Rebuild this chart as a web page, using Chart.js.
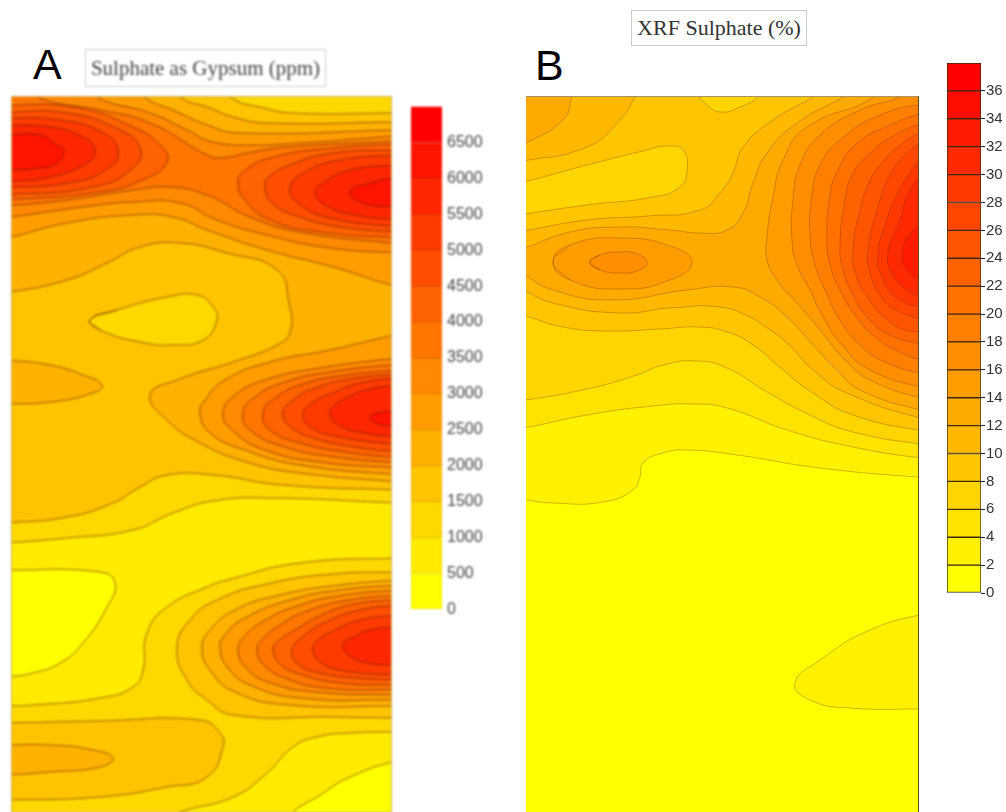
<!DOCTYPE html>
<html>
<head>
<meta charset="utf-8">
<title>Sulphate contours</title>
<script src="https://cdn.jsdelivr.net/npm/chart.js@4"></script>
<style>
  html, body { margin: 0; padding: 0; background: #fff; width: 1006px; height: 812px; overflow: hidden; }
  .caixa { position: absolute; }
  .letra { position: absolute; font: 43px/43px "Liberation Sans", Arial, sans-serif; color: #000; }
  .titulo { position: absolute; box-sizing: border-box; border: 1px solid #ccc; font-family: "Liberation Serif", serif; color: #333; text-align: center; white-space: nowrap; }
  .borrado { filter: blur(0.8px); }
</style>
</head>
<body>
<div class="letra" style="left:33px;top:43px">A</div>
<div class="letra" style="left:535px;top:44px">B</div>
<div class="titulo borrado" style="left:85px;top:49px;width:241px;height:38px;line-height:36px;font-size:21px;color:#444">Sulphate as Gypsum (ppm)</div>
<div class="titulo" style="left:631px;top:10px;width:176px;height:36px;line-height:34px;font-size:22px">XRF Sulphate (%)</div>

<div class="caixa borrado" style="left:12px;top:97px;width:379px;height:715px;outline:1px solid #c8b060"><canvas id="painelA"></canvas></div>
<div class="caixa borrado" style="left:411px;top:92px;width:85px;height:532px"><canvas id="barraA"></canvas></div>
<div class="caixa" style="left:526px;top:97px;width:392px;height:715px;border-top:1px solid #a89468;border-right:1px solid #5a4a20;box-sizing:content-box;margin-top:-1px"><canvas id="painelB"></canvas></div>
<div class="caixa" style="left:947px;top:53px;width:59px;height:550px"><canvas id="barraB"></canvas></div>

<script>
// contour levels of the two colour bars
const niveisA = [0, 500, 1000, 1500, 2000, 2500, 3000, 3500, 4000, 4500, 5000, 5500, 6000, 6500, 7000];
const niveisB = [0, 2, 4, 6, 8, 10, 12, 14, 16, 18, 20, 22, 24, 26, 28, 30, 32, 34, 36, 38];
const ticksA = [0, 500, 1000, 1500, 2000, 2500, 3000, 3500, 4000, 4500, 5000, 5500, 6000, 6500];
const ticksB = [0, 2, 4, 6, 8, 10, 12, 14, 16, 18, 20, 22, 24, 26, 28, 30, 32, 34, 36];

// survey extent of each panel (distance across, depth down)
const extensaoA = { xMin: 12, xMax: 391, yMin: 97, yMax: 812 };
const extensaoB = { xMin: 526, xMax: 918, yMin: 97, yMax: 812 };

// isolines: [band, [x, y, x, y, ...]], painted in this order
const isolinhasA = [
  [1, [-10,80, 415,80, 415,830, -10,830]],
  [0, [-10,570, 4,570, 100,572, 115,583, 107,607, 83,643, 60,663, 33,673, 4,677, -10,677]],
  [0, [415,760, 400,760, 350,777, 317,797, 293,812, 285,825, 415,830]],
  [2, [-10,80, -10,543, 4,543, 67,538, 133,530, 173,513, 213,501, 267,498, 400,503, 412,503, 415,80]],
  [2, [-10,830, -10,706, 4,706, 33,705, 100,698, 133,687, 143,670, 147,633, 167,607, 207,587, 227,580, 300,563, 400,558, 412,558, 412,732, 400,732, 350,733, 317,737, 293,747, 267,773, 233,797, 180,812, 165,820, 160,830]],
  [3, [-10,80, 222,85, 233,99, 260,107, 293,113, 400,113, 412,113, 412,490, 400,490, 283,485, 213,475, 167,475, 140,487, 113,503, 67,517, 4,523, -10,523]],
  [3, [-10,723, 4,723, 100,721, 200,720, 220,733, 223,747, 207,777, 167,787, 100,797, 4,800, -10,800]],
  [3, [412,572, 400,572, 333,574, 267,584, 217,600, 190,620, 177,648, 187,680, 207,700, 233,715, 333,717, 400,718, 412,718]],
  [2, [90,320, 117,310, 167,297, 197,295, 213,307, 217,320, 203,340, 173,345, 140,342, 100,330]],
  [4, [-10,80, 172,85, 183,99, 207,107, 233,117, 267,123, 400,122, 412,122, 412,482, 400,482, 300,473, 250,463, 200,443, 167,420, 150,395, 177,380, 233,362, 277,345, 290,332, 289,303, 277,270, 227,253, 180,243, 140,247, 107,263, 67,280, 4,293, -10,293]],
  [4, [-10,360, 4,360, 50,365, 83,375, 102,385, 93,393, 50,402, 4,404, -10,404]],
  [4, [-10,745, 4,745, 50,745, 93,750, 113,758, 100,767, 50,772, 4,775, -10,775]],
  [4, [412,580, 400,580, 340,585, 280,595, 235,610, 210,630, 202,648, 210,670, 235,692, 290,705, 400,706, 412,706]],
  [5, [-10,80, 132,85, 147,99, 173,110, 207,125, 240,133, 400,130, 412,130, 412,285, 400,287, 333,267, 267,250, 207,230, 173,217, 133,215, 67,223, 4,239, -10,241]],
  [5, [412,333, 400,334, 330,350, 270,362, 225,380, 205,400, 200,413, 210,433, 245,450, 300,465, 400,475, 412,475]],
  [5, [412,585, 400,585, 340,590, 290,600, 245,618, 225,635, 220,648, 228,668, 250,685, 300,698, 400,700, 412,700]],
  [6, [-10,80, 90,88, 100,99, 150,113, 187,130, 213,142, 253,145, 300,143, 400,136, 412,136, 412,253, 400,253, 330,248, 267,235, 217,220, 180,203, 133,202, 83,207, 4,218, -10,219]],
  [6, [412,358, 400,358, 320,368, 265,380, 235,395, 223,413, 232,430, 265,450, 320,462, 400,468, 412,468]],
  [6, [412,590, 400,590, 345,595, 300,605, 262,622, 243,638, 238,650, 246,668, 268,682, 315,692, 400,695, 412,695]],
  [7, [-10,80, 30,88, 42,99, 100,110, 150,123, 207,155, 220,158, 253,152, 287,147, 400,141, 412,141, 412,245, 400,244, 300,232, 250,217, 207,195, 170,187, 133,190, 67,200, 4,206, -10,206]],
  [7, [412,364, 400,364, 330,372, 285,382, 255,397, 243,413, 250,430, 285,447, 335,457, 400,463, 412,463]],
  [7, [412,595, 400,595, 350,600, 310,610, 280,625, 262,640, 257,650, 264,665, 285,678, 325,688, 400,690, 412,690]],
  [8, [-10,105, 4,105, 73,107, 133,127, 163,148, 167,162, 147,178, 100,192, 4,200, -10,200]],
  [8, [412,144, 400,144, 333,148, 270,158, 243,172, 238,183, 245,200, 270,220, 320,232, 400,238, 412,238]],
  [8, [412,370, 400,370, 340,376, 300,385, 275,398, 263,413, 270,430, 300,443, 345,452, 400,458, 412,458]],
  [8, [412,600, 400,600, 355,604, 322,615, 295,630, 276,643, 273,650, 280,664, 300,674, 340,683, 400,685, 412,685]],
  [9, [-10,112, 4,112, 67,113, 120,130, 140,148, 133,168, 93,187, 4,195, -10,195]],
  [9, [412,150, 400,150, 333,153, 290,165, 268,178, 265,187, 272,203, 300,217, 340,227, 400,232, 412,232]],
  [9, [412,374, 400,374, 350,379, 315,388, 293,400, 283,413, 292,428, 320,440, 355,447, 400,452, 412,452]],
  [9, [412,605, 400,605, 360,610, 330,620, 305,635, 292,650, 298,664, 320,673, 355,678, 400,680, 412,680]],
  [10, [-10,118, 4,118, 60,120, 103,133, 118,150, 110,167, 73,182, 4,188, -10,188]],
  [10, [412,155, 400,155, 340,160, 305,172, 290,187, 298,203, 330,218, 400,227, 412,227]],
  [10, [412,378, 400,378, 360,383, 335,392, 312,403, 303,415, 312,428, 340,437, 400,445, 412,445]],
  [10, [412,615, 400,615, 360,620, 335,630, 316,642, 313,650, 320,662, 345,671, 400,675, 412,675]],
  [11, [-10,125, 4,125, 50,127, 83,137, 95,150, 87,163, 50,177, 4,182, -10,182]],
  [11, [412,165, 400,165, 350,170, 325,182, 315,192, 325,205, 355,215, 400,220, 412,220]],
  [11, [412,385, 400,385, 370,389, 350,396, 333,407, 330,415, 340,426, 365,433, 400,437, 412,437]],
  [11, [412,627, 400,627, 370,630, 352,638, 343,645, 350,656, 368,663, 400,665, 412,665]],
  [12, [-10,135, 4,135, 40,135, 57,145, 64,150, 57,163, 40,168, 4,170, -10,170]],
  [12, [412,177, 400,177, 370,183, 350,192, 362,203, 400,207, 412,207]],
  [12, [412,410, 400,410, 378,413, 370,417, 378,424, 400,426, 412,426]]
];

const isolinhasB = [
  [0, [500,80, 940,80, 940,830, 500,830]],
  [1, [505,80, 505,499, 518,499, 553,503, 603,502, 633,490, 640,477, 643,463, 663,453, 687,450, 737,455, 820,468, 928,478, 940,478, 940,80]],
  [1, [940,613, 928,613, 870,630, 820,660, 795,683, 810,700, 850,708, 928,709, 940,709]],
  [2, [505,80, 505,429, 518,429, 587,415, 653,406, 693,404, 727,408, 787,430, 853,447, 928,459, 940,459, 940,80]],
  [3, [505,80, 505,401, 518,401, 587,389, 637,375, 663,365, 697,361, 727,368, 767,392, 810,415, 853,432, 928,445, 940,445, 940,80]],
  [4, [505,80, 505,314, 518,314, 563,327, 607,331, 660,329, 700,327, 727,332, 753,345, 783,370, 813,393, 853,415, 928,432, 940,432, 940,80]],
  [3, [505,183, 518,183, 587,165, 647,150, 667,146, 683,150, 687,170, 680,187, 653,197, 587,205, 518,215, 505,217]],
  [3, [695,85, 700,97, 707,105, 720,112, 740,107, 758,97, 765,85]],
  [5, [505,234, 518,232, 587,220, 647,216, 700,210, 720,193, 733,173, 743,147, 773,120, 813,97, 830,85, 940,85, 940,418, 928,420, 847,393, 813,370, 787,343, 760,323, 750,317, 720,307, 670,308, 620,313, 553,303, 518,288, 505,286]],
  [5, [505,85, 640,85, 635,97, 620,120, 587,147, 518,162, 505,164]],
  [6, [505,85, 576,85, 572,97, 563,120, 518,147, 505,152]],
  [6, [505,250, 518,250, 570,232, 620,227, 670,230, 700,233, 727,230, 743,213, 753,183, 767,153, 797,123, 843,97, 860,85, 940,85, 940,412, 928,412, 860,390, 835,368, 813,345, 787,317, 760,297, 733,287, 687,290, 613,300, 553,290, 518,272, 505,268]],
  [7, [553,262, 570,245, 620,238, 670,246, 692,262, 670,280, 620,289, 570,280]],
  [8, [590,262, 600,255, 617,252, 637,254, 647,263, 637,271, 620,273, 600,270]],
  [7, [860,85, 873,97, 807,127, 783,160, 773,197, 767,237, 767,260, 777,280, 797,303, 820,330, 845,360, 870,380, 928,400, 940,400, 940,85]],
  [8, [915,85, 900,97, 860,110, 820,135, 800,165, 793,200, 792,240, 797,265, 810,290, 822,315, 842,345, 870,370, 928,389, 940,389, 940,85]],
  [9, [940,103, 928,103, 880,115, 840,140, 820,165, 812,195, 810,235, 815,265, 825,290, 840,320, 860,345, 885,362, 928,375, 940,375]],
  [10, [940,112, 928,112, 890,125, 855,145, 838,170, 830,195, 827,240, 830,265, 840,290, 855,315, 875,337, 900,352, 928,362, 940,362]],
  [11, [940,122, 928,122, 895,135, 868,155, 852,175, 845,200, 840,245, 843,270, 853,295, 868,318, 890,335, 928,345, 940,345]],
  [12, [940,130, 928,130, 900,145, 880,165, 868,185, 860,210, 853,250, 856,275, 868,298, 885,318, 905,330, 928,331, 940,331]],
  [13, [940,140, 928,140, 905,155, 890,175, 880,200, 868,250, 870,272, 882,298, 900,312, 928,320, 940,320]],
  [14, [940,152, 928,152, 912,170, 897,195, 885,225, 878,253, 880,272, 897,298, 928,308, 940,308]],
  [15, [940,172, 928,172, 910,190, 900,220, 888,253, 893,275, 912,293, 928,297, 940,297]],
  [16, [940,220, 928,220, 912,232, 902,253, 907,270, 928,283, 940,283]]
];

function corDaFaixa(indice, total) {
  const g = Math.round(255 * (1 - indice / (total - 1)));
  return `rgb(255,${g},0)`;
}

function corDaDivisa(indice, total) {
  const g = Math.round(225 * (1 - indice / (total - 1)));
  return `rgb(228,${g},0)`;
}

function paraPontos(plano, extensao) {
  const pontos = [];
  for (let i = 0; i < plano.length; i += 2) {
    pontos.push({ x: plano[i], y: plano[i + 1] });
  }
  const fechada = pontos.every(
    (p) => p.x > extensao.xMin && p.x < extensao.xMax && p.y > extensao.yMin && p.y < extensao.yMax
  );
  // blobs inside the panel wrap round so the join stays smooth
  if (fechada) {
    return [pontos[pontos.length - 1], ...pontos, pontos[0], pontos[1]];
  }
  pontos.push(pontos[0]);
  return pontos;
}

function desenharPainel(id, isolinhas, extensao, totalFaixas, corLinha, larguraLinha) {
  // first dataset is painted last, so the list is turned round
  const datasets = isolinhas
    .map(([faixa, plano]) => ({
      data: paraPontos(plano, extensao),
      backgroundColor: corDaFaixa(faixa, totalFaixas),
      borderColor: corLinha,
      borderWidth: larguraLinha,
      fill: "shape",
      tension: 0.5,
      capBezierPoints: false,
      pointRadius: 0,
      clip: 0,
    }))
    .reverse();

  new Chart(document.getElementById(id), {
    type: "line",
    data: { datasets },
    options: {
      responsive: true,
      maintainAspectRatio: false,
      animation: false,
      layout: { padding: 0, autoPadding: false },
      plugins: { legend: { display: false }, tooltip: { enabled: false } },
      scales: {
        x: { type: "linear", display: false, min: extensao.xMin, max: extensao.xMax },
        y: { type: "linear", display: false, reverse: true, min: extensao.yMin, max: extensao.yMax },
      },
    },
  });
}

function desenharBarra(id, niveis, ticks, opcoes) {
  const total = niveis.length - 1;
  const datasets = [];
  for (let i = 0; i < total; i++) {
    datasets.push({
      data: [niveis[i + 1] - niveis[i]],
      backgroundColor: corDaFaixa(i, total),
      borderColor: opcoes.corBorda || corDaDivisa(i, total),
      borderWidth: opcoes.larguraBorda,
      borderSkipped: false,
      barPercentage: 1,
      categoryPercentage: 1,
    });
  }

  new Chart(document.getElementById(id), {
    type: "bar",
    data: { labels: [""], datasets },
    options: {
      responsive: true,
      maintainAspectRatio: false,
      animation: false,
      layout: { padding: { top: opcoes.folgaCima, bottom: opcoes.folgaBaixo }, autoPadding: false },
      plugins: { legend: { display: false }, tooltip: { enabled: false } },
      scales: {
        x: { stacked: true, display: false },
        y: {
          stacked: true,
          position: "right",
          min: niveis[0],
          max: niveis[total],
          afterBuildTicks: (escala) => {
            escala.ticks = ticks.map((v) => ({ value: v }));
          },
          afterFit: (escala) => {
            escala.width = opcoes.larguraEixo;
          },
          border: { display: false },
          grid: {
            drawOnChartArea: false,
            drawTicks: opcoes.tamanhoTick > 0,
            tickLength: opcoes.tamanhoTick,
            color: "#222",
          },
          ticks: {
            padding: opcoes.folgaTexto,
            autoSkip: false,
            color: opcoes.corTexto,
            font: { family: "'Liberation Sans', Arial, sans-serif", size: opcoes.tamanhoFonte },
            callback: (valor) => String(valor),
          },
        },
      },
    },
  });
}

desenharPainel("painelA", isolinhasA, extensaoA, niveisA.length - 1, "rgba(90,25,0,0.62)", 1);
desenharPainel("painelB", isolinhasB, extensaoB, niveisB.length - 1, "rgba(100,40,0,0.38)", 0.8);

desenharBarra("barraA", niveisA, ticksA, {
  corBorda: null,
  larguraBorda: 1,
  folgaCima: 6,
  folgaBaixo: 10,
  larguraEixo: 54,
  tamanhoTick: 0,
  folgaTexto: 5,
  corTexto: "#444",
  tamanhoFonte: 16,
});
desenharBarra("barraB", niveisB, ticksB, {
  corBorda: "#3a2a10",
  larguraBorda: 1,
  folgaCima: 10,
  folgaBaixo: 10,
  larguraEixo: 25,
  tamanhoTick: 4,
  folgaTexto: 1,
  corTexto: "#333",
  tamanhoFonte: 15,
});
</script>
</body>
</html>
